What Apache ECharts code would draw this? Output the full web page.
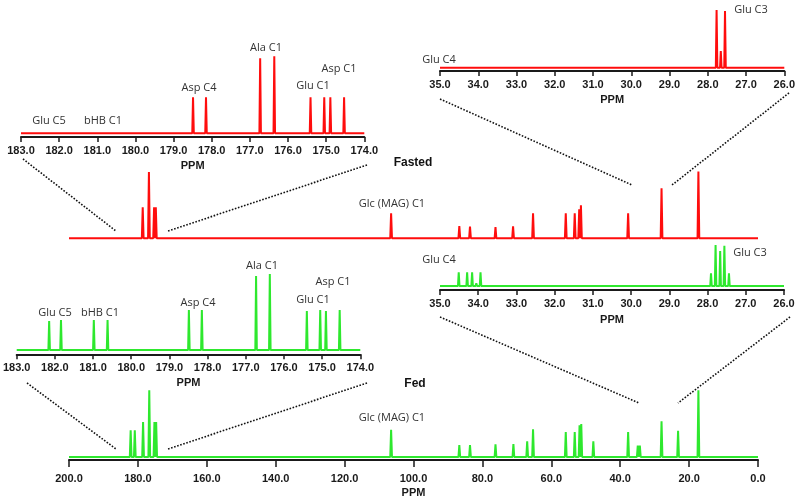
<!DOCTYPE html>
<html>
<head>
<meta charset="utf-8">
<script src="https://cdn.jsdelivr.net/npm/echarts@6/dist/echarts.min.js"></script>
<style>
html,body{margin:0;padding:0;background:#fff;}
#c{width:800px;height:501px;}
</style>
</head>
<body>
<div id="c"></div>
<script>
// ---- data (ppm positions and peak intensities, arbitrary units) ----
const fastedInset1Ppm = [178.49, 178.33, 178.15, 176.73, 176.36, 175.41, 175.05, 174.89, 174.72, 174.53];
const fastedInset1Int = [36, 2, 36, 75, 77, 36, 36, 36, 1.5, 36];
const fastedInset2Ppm = [27.77, 27.66, 27.55];
const fastedInset2Int = [57.7, 16.7, 56.7];
const fastedMainPpm = [178.6, 176.8, 175.3, 174.8, 106.5, 86.7, 83.6, 76.2, 71.1, 65.3, 55.8, 53.2, 51.9, 51.4, 37.7, 28.0, 17.3];
const fastedMainInt = [31, 66.3, 31, 31, 25, 12.3, 11.7, 11.3, 12, 25, 25, 25, 29, 33, 25, 50, 66.7];

const fedInset1Ppm = [182.15, 181.84, 180.98, 180.62, 178.49, 178.15, 176.73, 176.37, 175.40, 175.05, 174.90, 174.54];
const fedInset1Int = [29, 30, 30, 30, 40, 40, 74, 76, 39, 40, 39, 40];
const fedInset2Ppm = [34.51, 34.40, 34.29, 34.16, 34.05, 33.94, 27.91, 27.79, 27.67, 27.56, 27.44];
const fedInset2Int = [13.7, 2, 13.7, 13.7, 2.7, 13.7, 12.7, 41, 35, 40.3, 12.7];
const fedMainPpm = [182.1, 180.9, 178.5, 176.7, 175.2, 174.7, 106.5, 86.7, 83.6, 76.2, 71.0, 67.0, 65.3, 55.8, 53.2, 51.8, 51.3, 47.8, 37.7, 34.9, 34.3, 28.0, 23.2, 17.3];
const fedMainInt = [26.7, 26.7, 35, 66.7, 35, 35, 27.3, 12, 12, 12.7, 13, 15.7, 27.7, 25, 25, 31.7, 33, 15.7, 25, 11.3, 11.3, 35.7, 26.3, 66.7];

const inset1Range = [174, 183];
const inset2Range = [26, 35];
const mainRange = [0, 200];

// ---- build traces (stick peaks on a baseline) ----
function trace(ppm, inten, range, w) {
  const idx = ppm.map((p, i) => i).sort((a, b) => ppm[a] - ppm[b]);
  const pts = [[range[0], 0]];
  idx.forEach(i => {
    pts.push([ppm[i] - w, 0]);
    pts.push([ppm[i], inten[i]]);
    pts.push([ppm[i] + w, 0]);
  });
  pts.push([range[1], 0]);
  return pts;
}

const RED = '#ff0d0d';
const GREEN = '#2ee82e';
const AX = '#1a1a1a';
const tickFont = {fontFamily: 'Liberation Sans, Arial, sans-serif', fontWeight: 'bold', fontSize: 11, color: AX};

function grid(left, width, axisY, h) {
  return {left: left, width: width, top: axisY - h, height: h, outerBoundsMode: 'none', containLabel: false};
}
function xAx(gi, range, interval, opts) {
  return Object.assign({
    gridIndex: gi, type: 'value', min: range[0], max: range[1], interval: interval, inverse: true,
    axisLine: {show: true, onZero: false, lineStyle: {color: AX, width: 2}},
    axisTick: {show: true, length: 5, lineStyle: {color: AX, width: 1.5}},
    axisLabel: Object.assign({show: true, margin: 8, showMinLabel: true, showMaxLabel: true,
      formatter: v => v.toFixed(1)}, tickFont),
    splitLine: {show: false},
    name: 'PPM', nameLocation: 'middle', nameGap: 23,
    nameTextStyle: Object.assign({}, tickFont)
  }, opts || {});
}
function yAx(gi, min, max) {
  return {gridIndex: gi, type: 'value', min: min, max: max, show: false, splitLine: {show: false}};
}
function line(gi, data, color) {
  return {type: 'line', xAxisIndex: gi, yAxisIndex: gi, data: data, showSymbol: false, symbol: 'none',
    lineStyle: {color: color, width: 2}, animation: false, silent: true, clip: false};
}

const labelFont = '11px "Open Sans", sans-serif';
function txt(t, x, y, font, color) {
  return {type: 'text', x: x, y: y, silent: true,
    style: {text: t, x: 0, y: 0, align: 'center', verticalAlign: 'middle', textAlign: 'center', textVerticalAlign: 'middle',
      font: font || labelFont, fill: color || '#333'}};
}
function dots(x1, y1, x2, y2) {
  return {type: 'line', silent: true, shape: {x1: x1, y1: y1, x2: x2, y2: y2},
    style: {stroke: '#111', lineWidth: 1.6, lineDash: [1.6, 1.6]}};
}

const chart = echarts.init(document.getElementById('c'), null, {renderer: 'canvas'});
chart.setOption({
  backgroundColor: '#fff',
  animation: false,
  grid: [
    grid(21, 343.3, 137, 100),     // 0 fasted inset 1
    grid(440, 344.3, 71, 70),      // 1 fasted inset 2
    grid(69, 689, 242, 80),        // 2 fasted main
    grid(16.7, 343.6, 354.3, 90),  // 3 fed inset 1
    grid(440, 344, 290, 60),       // 4 fed inset 2
    grid(69, 689, 460, 80)         // 5 fed main
  ],
  xAxis: [
    xAx(0, inset1Range, 1),
    xAx(1, inset2Range, 1),
    {gridIndex: 2, type: 'value', min: mainRange[0], max: mainRange[1], inverse: true, show: false},
    xAx(3, inset1Range, 1, {nameGap: 23}),
    xAx(4, inset2Range, 1, {nameGap: 24}),
    xAx(5, mainRange, 20, {axisTick: {show: true, length: 7, lineStyle: {color: AX, width: 1.5}},
      axisLabel: Object.assign({show: true, margin: 13, showMinLabel: true, showMaxLabel: true,
        formatter: v => v.toFixed(1)}, tickFont), nameGap: 27})
  ],
  yAxis: [
    yAx(0, -3.7, 96.3),
    yAx(1, -3.3, 66.7),
    yAx(2, -3.7, 76.3),
    yAx(3, -4.3, 85.7),
    yAx(4, -4, 56),
    yAx(5, -3, 77)
  ],
  series: [
    line(0, trace(fastedInset1Ppm, fastedInset1Int, inset1Range, 0.02), RED),
    line(1, trace(fastedInset2Ppm, fastedInset2Int, inset2Range, 0.02), RED),
    line(2, trace(fastedMainPpm, fastedMainInt, mainRange, 0.25), RED),
    line(3, trace(fedInset1Ppm, fedInset1Int, inset1Range, 0.02), GREEN),
    line(4, trace(fedInset2Ppm, fedInset2Int, inset2Range, 0.02), GREEN),
    line(5, trace(fedMainPpm, fedMainInt, mainRange, 0.25), GREEN)
  ],
  graphic: [
    // fasted inset 1 labels
    txt('Glu C5', 49, 121), txt('bHB C1', 103, 121), txt('Asp C4', 199, 88),
    txt('Ala C1', 266, 48), txt('Glu C1', 313, 86), txt('Asp C1', 339, 69),
    // fasted inset 2 labels
    txt('Glu C4', 439, 60), txt('Glu C3', 751, 10),
    // fed inset 1 labels
    txt('Glu C5', 55, 313), txt('bHB C1', 100, 313), txt('Asp C4', 198, 303),
    txt('Ala C1', 262, 266), txt('Glu C1', 313, 300), txt('Asp C1', 333, 282),
    // fed inset 2 labels
    txt('Glu C4', 439, 260), txt('Glu C3', 750, 253),
    // main spectra labels
    txt('Glc (MAG) C1', 392, 204), txt('Glc (MAG) C1', 392, 418),
    txt('Fasted', 413, 163, 'bold 12px "Liberation Sans", Arial, sans-serif', '#111'),
    txt('Fed', 415, 384, 'bold 12px "Liberation Sans", Arial, sans-serif', '#111'),
    // dotted connectors
    dots(23, 159, 116, 231), dots(367, 165, 168, 231),
    dots(440, 99, 632, 185), dots(789, 93, 672, 185),
    dots(27, 383, 116, 449), dots(367, 383, 168, 449),
    dots(440, 317, 639, 403), dots(790, 317, 678, 403)
  ]
});
</script>
</body>
</html>
